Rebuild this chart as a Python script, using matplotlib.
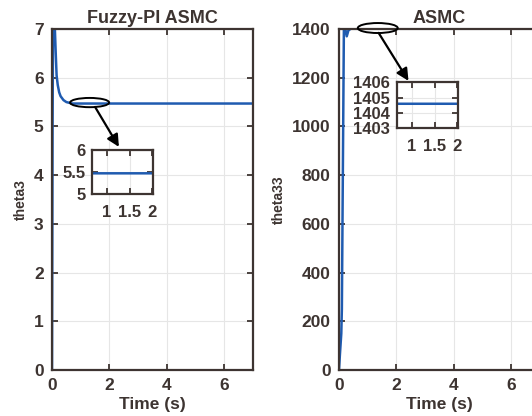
import matplotlib
matplotlib.use("Agg")
import matplotlib.pyplot as plt
from matplotlib.patches import Ellipse

# Fuzzy-PI ASMC response (theta3)
t_fuzzy = [0.0, 0.02, 0.04, 0.1, 0.13, 0.16, 0.2, 0.25, 0.3, 0.4, 0.5, 0.7, 7.0]
theta3 = [0.0, 5.0, 7.6, 7.0, 6.5, 6.05, 5.85, 5.7, 5.62, 5.54, 5.5, 5.47, 5.47]

# ASMC response (theta33)
t_asmc = [0.0, 0.03, 0.08, 0.1, 0.17, 0.22, 0.27, 0.33, 0.4, 0.45, 7.0]
theta33 = [0.0, 60.0, 150.0, 250.0, 1400.0, 1400.0, 1370.0, 1395.0, 1400.0, 1404.6, 1404.6]

xticks = [0, 2, 4, 6]
yticks_fuzzy = [0, 1, 2, 3, 4, 5, 6, 7]
yticks_asmc = [0, 200, 400, 600, 800, 1000, 1200, 1400]

line_col = '#1f5bb0'
dark = '#3d3431'
plt.rcParams['font.family'] = ['Liberation Sans', 'DejaVu Sans']
plt.rcParams['font.weight'] = 'bold'

fig = plt.figure(figsize=(5.32, 4.16), dpi=100)
W, H = 532.0, 416.0


def style(ax, fs, pad):
    for s in ax.spines.values():
        s.set_color(dark)
        s.set_linewidth(1.6)
    ax.tick_params(direction='in', top=True, right=True, colors=dark,
                   labelsize=fs, pad=pad, length=4, width=1.3)
    for lab in ax.get_xticklabels() + ax.get_yticklabels():
        lab.set_fontweight('bold')
    ax.grid(True, color='#e6e6e6', linewidth=0.8)
    ax.set_axisbelow(True)


# left panel
ax1 = fig.add_axes([52 / W, 1 - 370 / H, 201 / W, 341 / H])
ax1.plot(t_fuzzy, theta3, color=line_col, linewidth=1.8)
ax1.set_xlim(0, 7)
ax1.set_ylim(0, 7)
ax1.set_xticks(xticks)
ax1.set_yticks(yticks_fuzzy)
style(ax1, 12.5, 6)
ax1.set_title("Fuzzy-PI ASMC", fontsize=13, fontweight='bold', color=dark, pad=4)
ax1.set_xlabel("Time (s)", fontsize=12.5, fontweight='bold', color=dark, labelpad=3)
ax1.set_ylabel("theta3", fontsize=10, fontweight='bold', color=dark, labelpad=4)

ax1.add_patch(Ellipse((1.31, 5.49), 1.36, 0.19, fill=False, edgecolor='black',
                      linewidth=1.4, clip_on=False, zorder=5))
ax1.annotate("", xy=(2.33, 4.58), xytext=(1.50, 5.40),
             arrowprops=dict(arrowstyle='-|>', color='black', lw=1.6,
                             mutation_scale=18, shrinkA=0, shrinkB=0))

in1 = fig.add_axes([92.3 / W, 1 - 194 / H, 61 / W, 44 / H])
in1.plot(t_fuzzy, theta3, color=line_col, linewidth=1.8)
in1.set_xlim(0.68, 2.02)
in1.set_ylim(5, 6)
in1.set_xticks([1, 1.5, 2])
in1.set_xticklabels(['1', '1.5', '2'])
in1.set_yticks([5, 5.5, 6])
in1.set_yticklabels(['5', '5.5', '6'])
style(in1, 12, 5)
in1.tick_params(axis='x', pad=8)

# right panel
ax2 = fig.add_axes([339 / W, 1 - 370 / H, 201 / W, 341 / H])
ax2.plot(t_asmc, theta33, color=line_col, linewidth=1.8)
ax2.set_xlim(0, 7)
ax2.set_ylim(0, 1400)
ax2.set_xticks(xticks)
ax2.set_yticks(yticks_asmc)
style(ax2, 12.5, 6)
ax2.set_title("ASMC", fontsize=13, fontweight='bold', color=dark, pad=4)
ax2.set_xlabel("Time (s)", fontsize=12.5, fontweight='bold', color=dark, labelpad=3)
ax2.set_ylabel("theta33", fontsize=10, fontweight='bold', color=dark, labelpad=4)

ax2.add_patch(Ellipse((1.35, 1404), 1.39, 41, fill=False, edgecolor='black',
                      linewidth=1.4, clip_on=False, zorder=5))
ax2.annotate("", xy=(2.42, 1187), xytext=(1.38, 1384),
             arrowprops=dict(arrowstyle='-|>', color='black', lw=1.6,
                             mutation_scale=18, shrinkA=0, shrinkB=0))

in2 = fig.add_axes([397.3 / W, 1 - 128.3 / H, 61 / W, 46 / H])
in2.plot(t_asmc, theta33, color=line_col, linewidth=1.8)
in2.set_xlim(0.68, 2.02)
in2.set_ylim(1403, 1406)
in2.set_xticks([1, 1.5, 2])
in2.set_xticklabels(['1', '1.5', '2'])
in2.set_yticks([1403, 1404, 1405, 1406])
style(in2, 12, 5)
in2.tick_params(axis='x', pad=8)

fig.savefig("out.png", dpi=100)
